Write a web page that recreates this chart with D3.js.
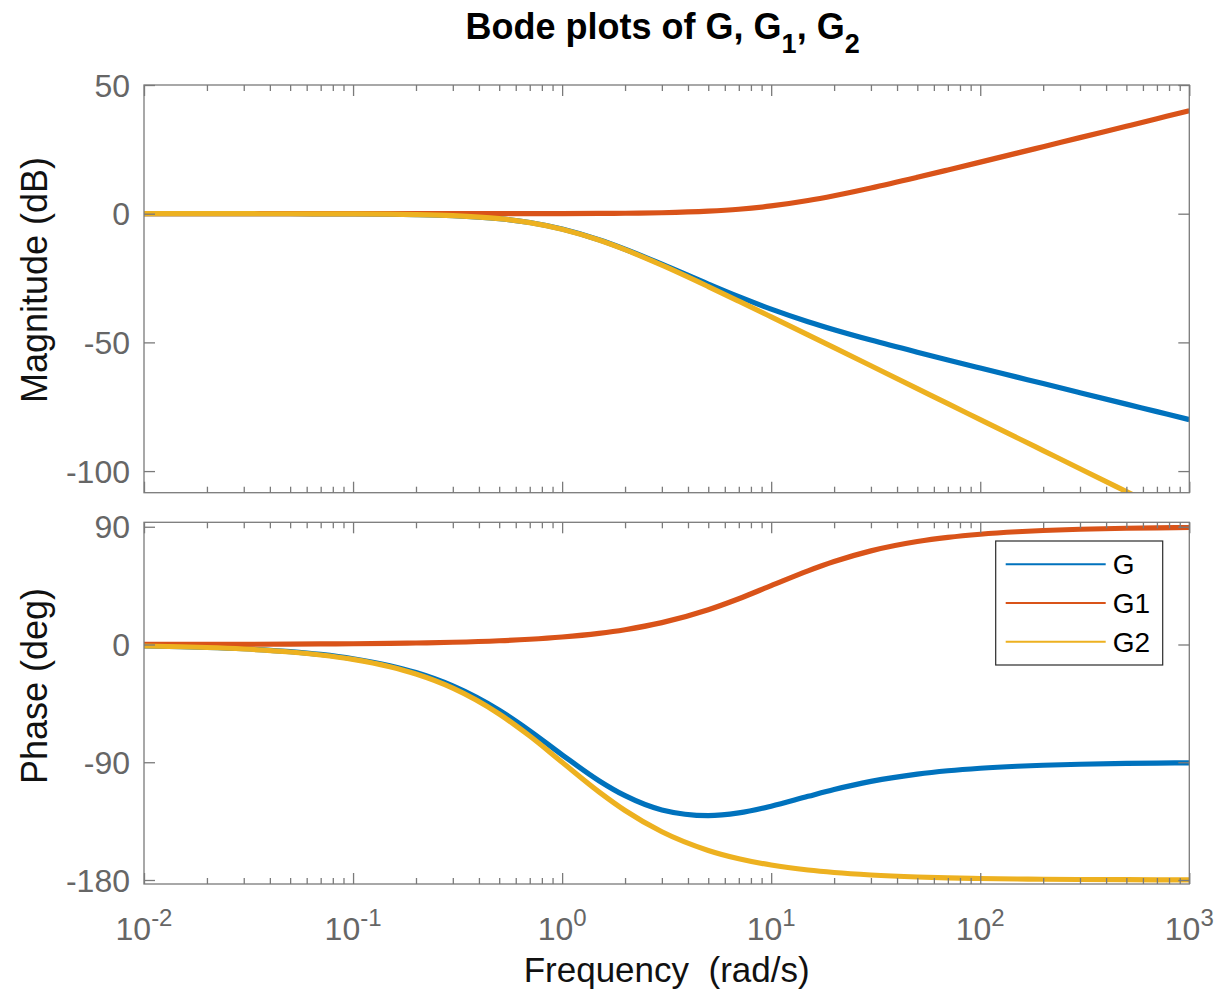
<!DOCTYPE html>
<html>
<head>
<meta charset="utf-8">
<script src="https://cdn.jsdelivr.net/npm/d3@7"></script>
<style>
body { margin: 0; background: #fff; }
text { font-family: "Liberation Sans", Arial, Helvetica, sans-serif; }
</style>
</head>
<body>
<div id="chart"></div>
<script>
// frequencies (rad/s) and values
var freq = [0.01, 0.015, 0.02, 0.03, 0.05, 0.07, 0.1, 0.15, 0.2, 0.3, 0.5, 0.7, 1, 1.5, 2, 3, 5, 7,
    10, 15, 20, 30, 50, 70, 100, 150, 200, 300, 500, 700, 1000];

var magG = [0, 0, 0, -0.01, -0.02, -0.04, -0.09, -0.19, -0.34, -0.74, -1.93, -3.44, -5.98, -10.14, -13.81,
    -19.63, -27.33, -32.25, -37.08, -41.96, -45.07, -49.09, -53.81, -56.82, -59.96, -63.5, -66.01, -69.54,
    -73.98, -76.9, -80];
var magG1 = [0, 0, 0, 0, 0, 0, 0, 0, 0, 0, 0.01, 0.02, 0.04, 0.1, 0.17, 0.37, 0.97, 1.73, 3.01, 5.12, 6.99,
    10, 14.15, 16.99, 20.04, 23.54, 26.03, 29.55, 33.98, 36.9, 40];
var magG2 = [0, 0, 0, -0.01, -0.02, -0.04, -0.09, -0.19, -0.34, -0.75, -1.94, -3.46, -6.02, -10.24, -13.98,
    -20, -28.3, -33.98, -40.09, -47.08, -52.06, -59.09, -67.96, -73.81, -80, -87.04, -92.04, -99.09,
    -107.96, -113.8, -120];

var phG = [-1.09, -1.63, -2.18, -3.26, -5.44, -7.61, -10.85, -16.2, -21.47, -31.68, -50.27, -65.98, -84.29,
    -104.09, -115.56, -126.43, -130.82, -128.75, -123.58, -116.06, -110.84, -104.62, -99.02, -96.49,
    -94.57, -93.05, -92.29, -91.53, -90.92, -90.65, -90.46];
var phG1 = [0.06, 0.09, 0.11, 0.17, 0.29, 0.4, 0.57, 0.86, 1.15, 1.72, 2.86, 4, 5.71, 8.53, 11.31, 16.7,
    26.57, 34.99, 45, 56.31, 63.43, 71.57, 78.69, 81.87, 84.29, 86.19, 87.14, 88.09, 88.85, 89.18, 89.43];
var phG2 = [-1.15, -1.72, -2.29, -3.44, -5.73, -8.01, -11.42, -17.06, -22.62, -33.4, -53.13, -69.98, -90,
    -112.62, -126.87, -143.13, -157.38, -163.74, -168.58, -172.37, -174.28, -176.18, -177.71, -178.36,
    -178.85, -179.24, -179.43, -179.62, -179.77, -179.84, -179.89];

var seriesNames = ["G", "G1", "G2"];
var seriesColors = ["#0072BD", "#D95319", "#EDB120"];
var magTicks = [-100, -50, 0, 50];
var phaseTicks = [-180, -90, 0, 90];
var decadeExps = [-2, -1, 0, 1, 2, 3];

var width = 1215, height = 993;
var left = 144, right = 1189.3;
var axisColor = "#7a7a7a", tickTextColor = "#666666";

var svg = d3.select("#chart").append("svg")
    .attr("width", width)
    .attr("height", height);

var xScale = d3.scaleLog()
    .domain([0.01, 1000])
    .range([left, right]);

// minor ticks 2..9 in every decade
var minorTicks = [];
decadeExps.slice(0, -1).forEach(function (e) {
    for (var m = 2; m <= 9; m++) minorTicks.push(m * Math.pow(10, e));
});
var majorTicks = decadeExps.map(function (e) { return Math.pow(10, e); });

var panels = [
    {top: 85, bottom: 492.7, domain: [-108.4, 50], ticks: magTicks, label: "Magnitude (dB)", labelY: 280,
        series: [magG, magG1, magG2]},
    {top: 522.3, bottom: 884, domain: [-183.06, 93.4], ticks: phaseTicks, label: "Phase (deg)", labelY: 686,
        series: [phG, phG1, phG2]}
];

panels.forEach(function (p, i) {
    var yScale = d3.scaleLinear().domain(p.domain).range([p.bottom, p.top]);

    svg.append("clipPath").attr("id", "clip" + i)
        .append("rect")
        .attr("x", left).attr("y", p.top)
        .attr("width", right - left).attr("height", p.bottom - p.top);

    var line = d3.line()
        .x(function (d, j) { return xScale(freq[j]); })
        .y(function (d) { return yScale(d); })
        .curve(d3.curveMonotoneX);

    var g = svg.append("g").attr("clip-path", "url(#clip" + i + ")");
    p.series.forEach(function (s, k) {
        g.append("path")
            .datum(s)
            .attr("d", line)
            .attr("fill", "none")
            .attr("stroke", seriesColors[k])
            .attr("stroke-width", 5.2);
    });

    // box
    svg.append("rect")
        .attr("x", left).attr("y", p.top)
        .attr("width", right - left).attr("height", p.bottom - p.top)
        .attr("fill", "none")
        .attr("stroke", axisColor)
        .attr("stroke-width", 1.3);

    // x ticks pointing inward, bottom and top
    [["axisBottom", p.bottom], ["axisTop", p.top]].forEach(function (a) {
        svg.append("g").attr("class", "axis")
            .attr("transform", "translate(0," + a[1] + ")")
            .call(d3[a[0]](xScale).tickValues(majorTicks).tickSize(-11).tickFormat(""));
        svg.append("g").attr("class", "axis")
            .attr("transform", "translate(0," + a[1] + ")")
            .call(d3[a[0]](xScale).tickValues(minorTicks).tickSize(-6).tickFormat(""));
    });

    // y ticks left and right
    svg.append("g").attr("class", "axis")
        .attr("transform", "translate(" + left + ",0)")
        .call(d3.axisLeft(yScale).tickValues(p.ticks).tickSize(-11).tickFormat(""));
    svg.append("g").attr("class", "axis")
        .attr("transform", "translate(" + right + ",0)")
        .call(d3.axisRight(yScale).tickValues(p.ticks).tickSize(-11).tickFormat(""));

    // y tick labels
    svg.selectAll(".ylab" + i)
        .data(p.ticks)
        .enter()
        .append("text")
        .attr("x", left - 14)
        .attr("y", function (d) { return yScale(d); })
        .attr("dy", "0.36em")
        .attr("text-anchor", "end")
        .attr("fill", tickTextColor)
        .style("font-size", "32px")
        .text(function (d) { return d; });

    // y axis label
    svg.append("text")
        .attr("transform", "translate(47," + p.labelY + ") rotate(-90)")
        .attr("text-anchor", "middle")
        .attr("fill", "#111")
        .style("font-size", "36px")
        .text(p.label);
});

svg.selectAll(".axis path").remove();
svg.selectAll(".axis line").attr("stroke", axisColor).attr("stroke-width", 1.3);

// x tick labels 10^n
var xl = svg.selectAll(".xlab")
    .data(decadeExps)
    .enter()
    .append("text")
    .attr("x", function (d) { return xScale(Math.pow(10, d)); })
    .attr("y", 940)
    .attr("text-anchor", "middle")
    .attr("fill", tickTextColor)
    .style("font-size", "32px");
xl.append("tspan").text("10");
xl.append("tspan")
    .attr("dy", -14)
    .style("font-size", "24px")
    .text(function (d) { return d < 0 ? "-" + Math.abs(d) : d; });

svg.append("text")
    .attr("x", (left + right) / 2)
    .attr("y", 982)
    .attr("text-anchor", "middle")
    .attr("fill", "#111")
    .style("font-size", "35px")
    .text("Frequency\u00a0\u00a0(rad/s)");

// title
var title = svg.append("text")
    .attr("x", (left + right) / 2 - 4)
    .attr("y", 39)
    .attr("text-anchor", "middle")
    .attr("fill", "#000")
    .style("font-size", "36px")
    .style("font-weight", "bold");
title.append("tspan").text("Bode plots of G, G");
title.append("tspan").attr("dy", 14).style("font-size", "27px").text("1");
title.append("tspan").attr("dy", -14).text(", G");
title.append("tspan").attr("dy", 14).style("font-size", "27px").text("2");

// legend
var legend = svg.append("g").attr("transform", "translate(995.7,541)");
legend.append("rect")
    .attr("width", 167).attr("height", 124)
    .attr("fill", "#fff")
    .attr("stroke", "#2b2b2b")
    .attr("stroke-width", 1.2);
seriesNames.forEach(function (name, k) {
    var y = 23.3 + k * 38.7;
    legend.append("line")
        .attr("x1", 10).attr("x2", 110)
        .attr("y1", y).attr("y2", y)
        .attr("stroke", seriesColors[k])
        .attr("stroke-width", 2);
    legend.append("text")
        .attr("x", 117).attr("y", y)
        .attr("dy", "0.36em")
        .attr("fill", "#000")
        .style("font-size", "28px")
        .text(name);
});
</script>
</body>
</html>
